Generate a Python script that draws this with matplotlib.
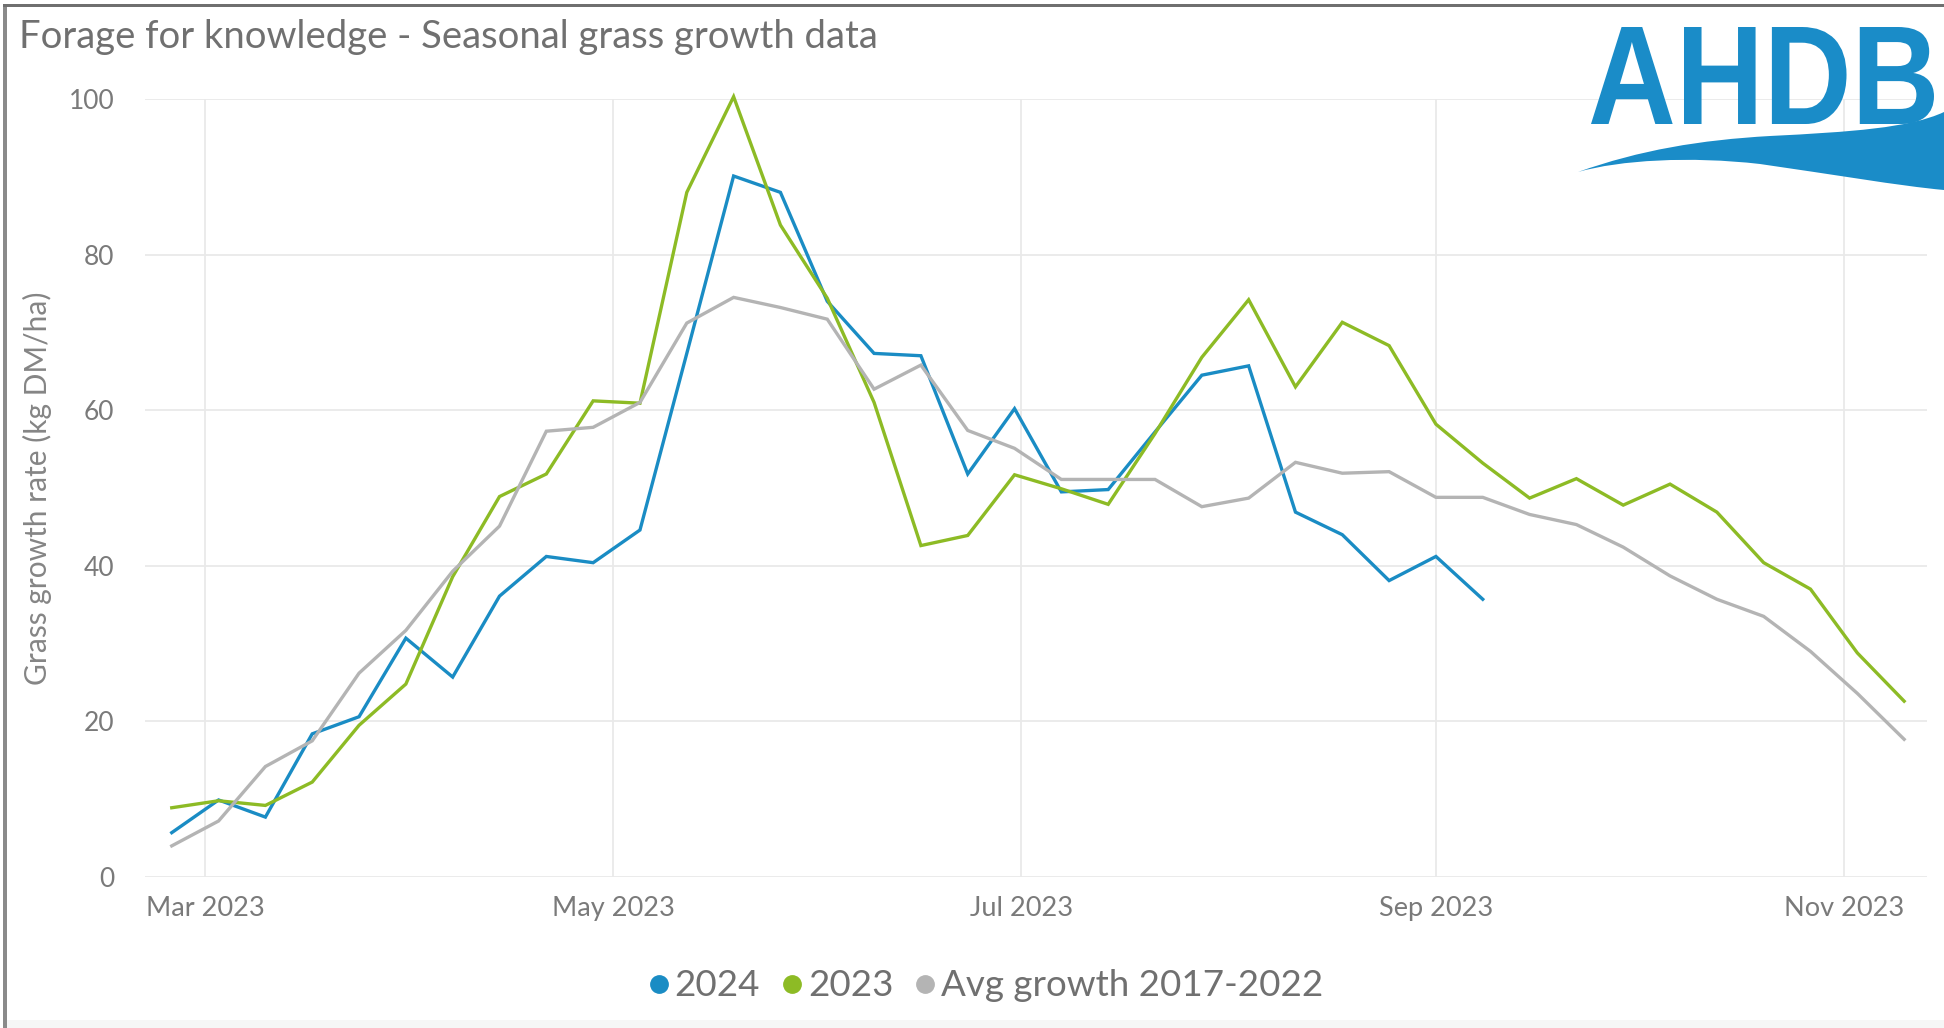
import pandas as pd
import numpy as np
import matplotlib
matplotlib.use("Agg")
import matplotlib.pyplot as plt
import matplotlib.dates as mdates
from matplotlib.path import Path
from matplotlib.patches import PathPatch, Rectangle
from matplotlib.textpath import TextPath
from matplotlib.font_manager import FontProperties
from matplotlib.transforms import Affine2D, IdentityTransform

## Weekly readings (plotted on the 2023 calendar)
fechas = pd.date_range("2023-02-24", "2023-11-10", freq="7D")

growth_2024 = [5.7, 9.9, 7.7, 18.4, 20.6, 30.7, 25.7, 36.1, 41.2, 40.4,
               44.6, 67.3, 90.1, 88.0, 74.0, 67.3, 67.0, 51.8, 60.2, 49.5,
               49.8, 57.2, 64.5, 65.7, 46.9, 44.0, 38.1, 41.2, 35.7]

growth_2023 = [8.9, 9.8, 9.2, 12.2, 19.5, 24.8, 38.6, 48.9, 51.8, 61.2,
               60.9, 88.0, 100.3, 83.8, 74.4, 61.0, 42.6, 43.9, 51.7, 49.9,
               47.9, 57.0, 66.8, 74.2, 63.0, 71.3, 68.3, 58.2, 53.2, 48.7,
               51.2, 47.8, 50.5, 46.9, 40.4, 37.0, 28.8, 22.6]

growth_avg = [4.0, 7.2, 14.2, 17.5, 26.2, 31.7, 39.3, 45.1, 57.3, 57.8,
              61.0, 71.2, 74.5, 73.2, 71.7, 62.7, 65.8, 57.4, 55.1, 51.1,
              51.1, 51.1, 47.6, 48.7, 53.3, 51.9, 52.1, 48.8, 48.8, 46.6,
              45.3, 42.4, 38.7, 35.7, 33.5, 29.0, 23.6, 17.7]

series = ["2024", "2023", "Avg growth 2017-2022"]
colores = ["#1a8cc4", "#8dbb25", "#b4b4b4"]

y_ticks = [0, 20, 40, 60, 80, 100]
x_ticks = pd.to_datetime(["2023-03-01", "2023-05-01", "2023-07-01",
                          "2023-09-01", "2023-11-01"])

plt.rcParams['font.family'] = ['Lato', 'DejaVu Sans']
W, H = 1944, 1028
fig = plt.figure(figsize=(W / 100, H / 100), dpi=100)

ax = fig.add_axes([145 / W, 1 - 877 / H, (1927 - 145) / W, (877 - 99) / H])

datos = [growth_2024, growth_2023, growth_avg]
for nombre, valores, color in zip(series, datos, colores):
    ax.plot(fechas[:len(valores)], valores, color=color, lw=2.4,
            label=nombre, clip_on=False, solid_joinstyle='miter')

ax.set_ylim(0, 100)
ax.set_xlim(pd.Timestamp("2023-02-20"), pd.Timestamp("2023-11-13 10:00"))
ax.set_yticks(y_ticks)
ax.set_xticks(x_ticks)
ax.xaxis.set_major_formatter(mdates.DateFormatter("%b %Y"))
ax.grid(True, color="#e9e9e9", lw=1.3)
ax.set_axisbelow(True)
for s in ax.spines.values():
    s.set_visible(False)
ax.tick_params(length=0, colors="#7a7a7a")
ax.tick_params(axis='y', pad=22, labelsize=19)
ax.tick_params(axis='x', pad=14, labelsize=19.5)

ax.set_ylabel("Grass growth rate (kg DM/ha)", fontsize=21.5, color="#858585",
              labelpad=12)

## Titulo
fig.text(19 / W, 1 - 37 / H, "Forage for knowledge - Seasonal grass growth data",
         fontsize=27.5, color="#707070", va='center', ha='left')

## Leyenda abajo
leg = fig.legend(*ax.get_legend_handles_labels(), loc='center',
                 bbox_to_anchor=(0.5 + 14 / W, 1 - 986 / H), ncol=3, frameon=False,
                 prop={'size': 26.5}, handlelength=0.55,
                 handletextpad=0.15, columnspacing=0.6, labelcolor="#707070")
for h, c in zip(leg.legend_handles, colores):
    h.set_linestyle('none')
    h.set_marker('o')
    h.set_markersize(12.5)
    h.set_markerfacecolor(c)
    h.set_markeredgecolor(c)

## Logo AHDB (texto + ola)
azul = "#1a8cc8"
tp = TextPath((0, 0), "AHDB", prop=FontProperties(family="Liberation Sans", weight="bold"))
ext = tp.get_extents()
x0, x1, y0, y1 = 1591, 1934, H - 124, H - 27
trans = Affine2D().translate(-ext.x0, -ext.y0).scale((x1 - x0) / ext.width, (y1 - y0) / ext.height).translate(x0, y0)
fig.patches.append(PathPatch(trans.transform_path(tp), color=azul, lw=0,
                             transform=IdentityTransform(), figure=fig))

ola = [(1578, 172),
       (1640, 150), (1700, 140), (1770, 136),
       (1850, 132), (1910, 128), (1944, 112),
       (1944, 190),
       (1900, 186), (1830, 174), (1760, 164),
       (1690, 156), (1620, 160), (1578, 172),
       (1578, 172)]
codes = [Path.MOVETO,
         Path.CURVE4, Path.CURVE4, Path.CURVE4,
         Path.CURVE4, Path.CURVE4, Path.CURVE4,
         Path.LINETO,
         Path.CURVE4, Path.CURVE4, Path.CURVE4,
         Path.CURVE4, Path.CURVE4, Path.CURVE4,
         Path.CLOSEPOLY]
ola = [(x, H - y) for x, y in ola]
fig.patches.append(PathPatch(Path(ola, codes), color=azul, lw=0,
                             transform=IdentityTransform(), figure=fig))

## Bordes
fig.patches.append(Rectangle((3 / W, 0), 3.5 / W, 1 - 4 / H, transform=fig.transFigure,
                             color="#8a8a8a", lw=0, figure=fig))
fig.patches.append(Rectangle((3 / W, 1 - 7 / H), 1 - 3 / W, 3 / H, transform=fig.transFigure,
                             color="#6f6f6f", lw=0, figure=fig))
fig.patches.append(Rectangle((6.5 / W, 0), 1, 8 / H, transform=fig.transFigure,
                             color="#f6f6f6", lw=0, figure=fig))

fig.savefig("out.png", dpi=100)
